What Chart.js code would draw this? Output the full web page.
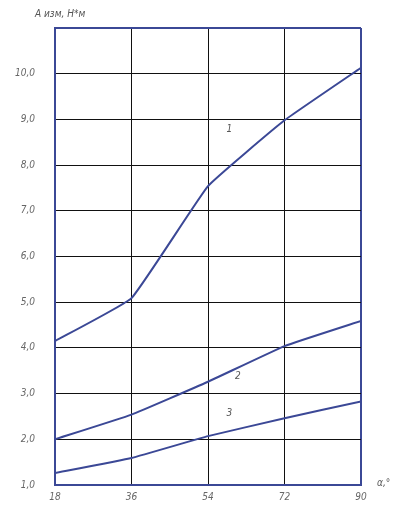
<!DOCTYPE html>
<html>
<head>
<meta charset="utf-8">
<script src="https://cdn.jsdelivr.net/npm/chart.js@4"></script>
<style>
  html, body { margin: 0; padding: 0; background: #fff; }
  #wrap { width: 405px; height: 511px; }
</style>
</head>
<body>
<div id="wrap"><canvas id="myChart" width="405" height="511"></canvas></div>
<script>
// angle, degrees
let angles = [18, 36, 54, 72, 90]
// A изм, Н*м for curves 1, 2, 3
let curve1 = [4.15, 5.09, 7.54, 8.98, 10.13]
let curve2 = [2.0, 2.54, 3.26, 4.04, 4.59]
let curve3 = [1.26, 1.59, 2.07, 2.46, 2.83]
let curveNames = ['1', '2', '3']
// where the curve numbers sit (x value, y value)
let curveLabelPos = [[59, 8.79], [61, 3.38], [59, 2.57]]

let blue = '#3b4896'
let font = 'DejaVu Sans Condensed, DejaVu Sans, sans-serif'

const textPlugin = {
    id: 'texts',
    afterDraw(chart) {
        const ctx = chart.ctx
        const x = chart.scales.x
        const y = chart.scales.y
        ctx.save()
        ctx.fillStyle = '#555'
        ctx.font = 'italic 10px ' + font
        ctx.textAlign = 'center'
        ctx.textBaseline = 'middle'
        curveNames.forEach((n, k) => {
            ctx.fillText(n, x.getPixelForValue(curveLabelPos[k][0]), y.getPixelForValue(curveLabelPos[k][1]))
        })
        ctx.textAlign = 'left'
        ctx.fillText('А изм, Н*м', 35, 14)
        ctx.fillText('α,°', 377, 483)
        ctx.restore()
    }
}

const ctx = document.getElementById('myChart')
const myChart = new Chart(ctx, {
    type: 'line',
    data: {
        datasets: [curve1, curve2, curve3].map((c, k) => ({
            label: curveNames[k],
            data: angles.map((a, j) => ({x: a, y: c[j]})),
            borderColor: blue,
            borderWidth: 2,
            pointRadius: 0,
            tension: 0.1,
            fill: false
        }))
    },
    options: {
        responsive: false,
        animation: false,
        layout: { padding: { top: 28, right: 44, left: 0, bottom: 0 } },
        plugins: { legend: { display: false }, tooltip: { enabled: false } },
        scales: {
            x: {
                type: 'linear',
                min: 18,
                max: 90,
                afterBuildTicks: (s) => { s.ticks = angles.map(v => ({value: v})) },
                afterFit: (s) => { s.height = 25 },
                grid: {
                    color: (c) => c.tick && c.tick.value == 90 ? blue : '#111',
                    lineWidth: (c) => c.tick && c.tick.value == 90 ? 2 : 1,
                    drawTicks: false
                },
                border: { color: blue, width: 2 },
                ticks: {
                    color: '#666',
                    padding: 6,
                    font: { family: font, size: 10, style: 'italic' }
                }
            },
            y: {
                min: 1,
                max: 11,
                afterFit: (s) => { s.width = 55 },
                grid: {
                    color: (c) => c.tick && c.tick.value == 11 ? blue : '#111',
                    lineWidth: (c) => c.tick && c.tick.value == 11 ? 2 : 1,
                    drawTicks: false
                },
                border: { color: blue, width: 2 },
                ticks: {
                    stepSize: 1,
                    color: '#666',
                    padding: 20,
                    font: { family: font, size: 10, style: 'italic' },
                    callback: (v) => v == 11 ? '' : v.toFixed(1).replace('.', ',')
                }
            }
        }
    },
    plugins: [textPlugin]
})
</script>
</body>
</html>
